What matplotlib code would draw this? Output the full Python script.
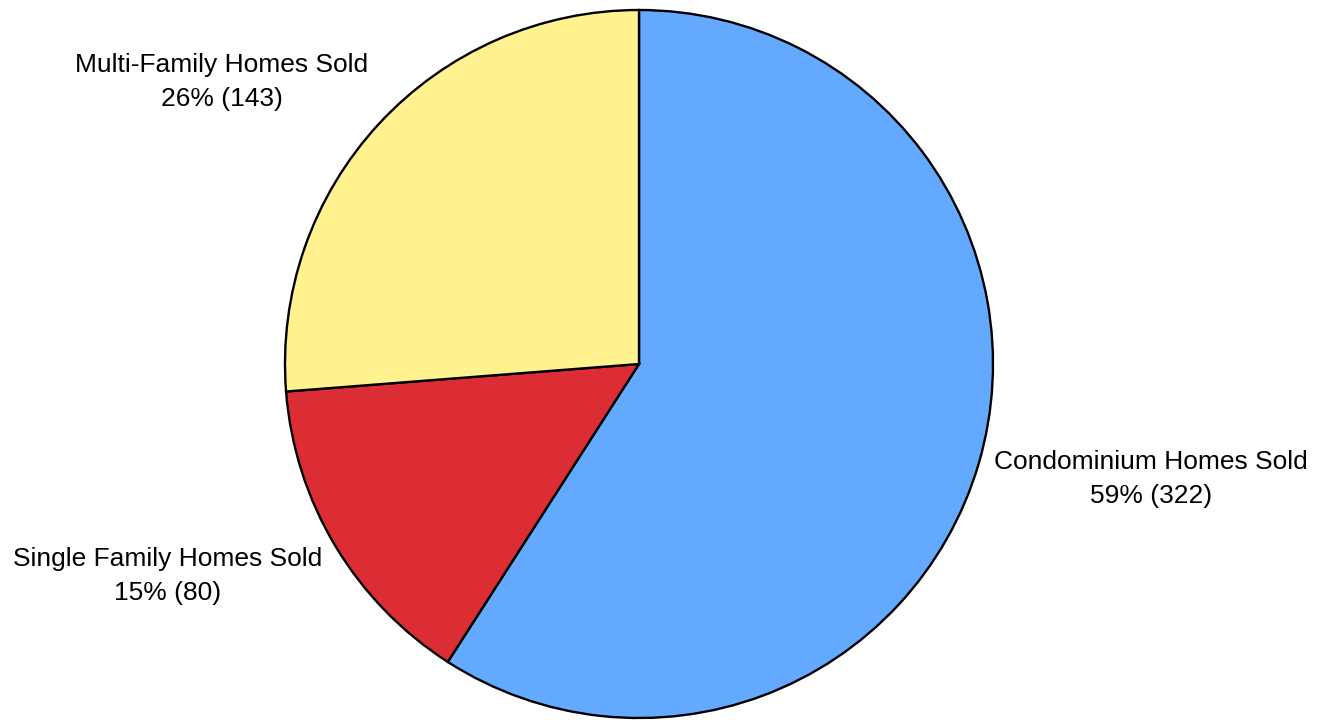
import matplotlib
matplotlib.use("Agg")
import matplotlib.pyplot as plt

categories = ["Condominium Homes Sold", "Single Family Homes Sold", "Multi-Family Homes Sold"]
counts = [322, 80, 143]
colors = ["#63A9FF", "#DC2D35", "#FFF28F"]

plt.rcParams["font.family"] = ["Liberation Sans", "DejaVu Sans"]

W, H = 1318, 720
fig = plt.figure(figsize=(W / 100, H / 100), dpi=100)
cx, cy, r = 639, 364, 354
ax = fig.add_axes([(cx - r) / W, (H - cy - r) / H, 2 * r / W, 2 * r / H])
ax.pie(counts, colors=colors, startangle=90, counterclock=False,
       wedgeprops=dict(edgecolor="black", linewidth=1.7), radius=1)
ax.set_xlim(-1, 1)
ax.set_ylim(-1, 1)
ax.set_aspect("equal")
ax.axis("off")

total = sum(counts)
# label centres in pixel space (x, y from top)
label_pos = [(1151, 479), (168, 576), (222, 82)]
for name, n, (px, py) in zip(categories, counts, label_pos):
    pct = round(100 * n / total)
    ax.text((px - cx) / r, (cy - py) / r, f"{name}\n{pct}% ({n})",
            ha="center", va="center", multialignment="center",
            fontsize=19, linespacing=1.5, color="black")

fig.savefig("out.png", dpi=100)
